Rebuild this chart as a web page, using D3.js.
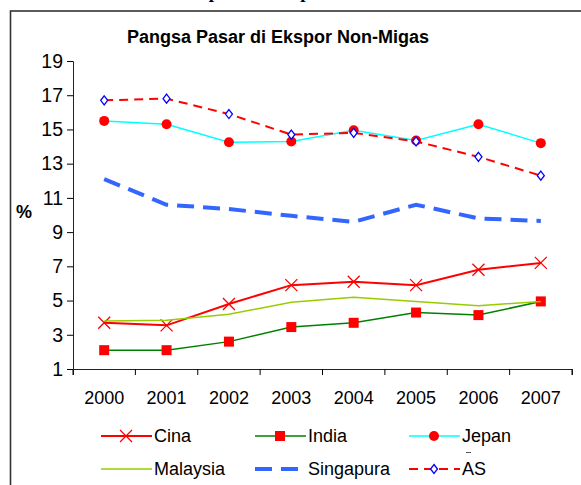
<!DOCTYPE html>
<html>
<head>
<meta charset="utf-8">
<script src="https://cdn.jsdelivr.net/npm/d3@7"></script>
<style>
  body { margin: 0; background: #fff; }
  text { font-family: Arial, "Liberation Sans", sans-serif; }
</style>
</head>
<body>
<div id="chart"></div>
<script>
// Data
var years = ["2000", "2001", "2002", "2003", "2004", "2005", "2006", "2007"];
var cina = [3.7, 3.55, 4.8, 5.9, 6.1, 5.9, 6.8, 7.2];
var india = [2.1, 2.1, 2.6, 3.45, 3.7, 4.3, 4.15, 4.95];
var jepan = [15.5, 15.3, 14.25, 14.3, 14.95, 14.35, 15.3, 14.2];
var malaysia = [3.8, 3.85, 4.2, 4.9, 5.2, 4.95, 4.7, 4.95];
var singapura = [12.1, 10.6, 10.35, 9.95, 9.6, 10.6, 9.8, 9.65];
var as = [16.7, 16.8, 15.9, 14.7, 14.8, 14.3, 13.4, 12.3];
var yTicks = [1, 3, 5, 7, 9, 11, 13, 15, 17, 19];

var svgWidth = 581;
var svgHeight = 485;

var margin = { top: 61, right: 9, bottom: 116, left: 73 };
var width = svgWidth - margin.left - margin.right;
var height = svgHeight - margin.top - margin.bottom;

var svg = d3.select("#chart")
  .append("svg")
  .attr("width", svgWidth)
  .attr("height", svgHeight);

// cut-off heading at the very top (only descenders show)
svg.append("text")
  .attr("x", 178)
  .attr("y", -2)
  .style("font-family", "'Liberation Serif', serif")
  .style("font-weight", "bold")
  .style("font-size", "19px")
  .text("Ekspor dan Impor");

// outer frame (runs off the right and bottom)
svg.append("rect")
  .attr("x", 10.5)
  .attr("y", 11)
  .attr("width", 600)
  .attr("height", 500)
  .attr("fill", "none")
  .attr("stroke", "#333")
  .attr("stroke-width", 1.6);

svg.append("text")
  .attr("x", 278)
  .attr("y", 43)
  .attr("text-anchor", "middle")
  .style("font-weight", "bold")
  .style("font-size", "18px")
  .text("Pangsa Pasar di Ekspor Non-Migas");

var chartGroup = svg.append("g")
  .attr("transform", `translate(${margin.left}, ${margin.top})`);

var xScale = d3.scaleBand()
  .domain(years)
  .range([0, width]);

var yScale = d3.scaleLinear()
  .domain([1, 19])
  .range([height, 0]);

var cx = d => xScale(d) + xScale.bandwidth() / 2;

// axes
var bottomAxis = d3.axisBottom(xScale).tickSize(6).tickSizeOuter(6).tickPadding(16);
var xAxisG = chartGroup.append("g")
  .attr("transform", `translate(0, ${height})`)
  .call(bottomAxis);
// ticks at band edges like the original
xAxisG.selectAll(".tick line").attr("x1", -xScale.bandwidth() / 2).attr("x2", -xScale.bandwidth() / 2);
xAxisG.append("line")
  .attr("x1", width).attr("x2", width)
  .attr("y1", 0).attr("y2", 6)
  .attr("stroke", "#000");
xAxisG.selectAll("text").style("font-size", "18px").style("font-family", "Arial, 'Liberation Sans', sans-serif").attr("fill", "#000");

var leftAxis = d3.axisLeft(yScale).tickValues(yTicks).tickSize(6).tickSizeOuter(6).tickPadding(4);
var yAxisG = chartGroup.append("g").call(leftAxis);
yAxisG.selectAll("text").style("font-size", "19.5px").style("font-family", "Arial, 'Liberation Sans', sans-serif").attr("fill", "#000");
yAxisG.select(".domain").attr("stroke", "#222");
xAxisG.select(".domain").attr("stroke", "#222");

chartGroup.append("text")
  .attr("x", 24 - margin.left)
  .attr("y", 218 - margin.top)
  .attr("text-anchor", "middle")
  .style("font-weight", "bold")
  .style("font-size", "18px")
  .text("%");

var series = [
  { name: "Cina", values: cina, color: "#ff0000", width: 2, dash: null, marker: "x" },
  { name: "India", values: india, color: "#008000", width: 1.5, dash: null, marker: "square" },
  { name: "Jepan", values: jepan, color: "#00ffff", width: 1.5, dash: null, marker: "circle" },
  { name: "Malaysia", values: malaysia, color: "#99cc00", width: 1.5, dash: null, marker: null },
  { name: "Singapura", values: singapura, color: "#3366ff", width: 4, dash: "17,9", marker: null },
  { name: "AS", values: as, color: "#ff0000", width: 2, dash: "9,6", marker: "diamond" }
];

var line = d3.line()
  .x((d, i) => cx(years[i]))
  .y(d => yScale(d));

function drawMarker(g, type, x, y) {
  if (type == "x") {
    g.append("path")
      .attr("d", `M${x - 6},${y - 6}L${x + 6},${y + 6}M${x - 6},${y + 6}L${x + 6},${y - 6}`)
      .attr("stroke", "#ff0000")
      .attr("stroke-width", 1.3)
      .attr("fill", "none");
  } else if (type == "square") {
    g.append("rect")
      .attr("x", x - 5).attr("y", y - 5)
      .attr("width", 10).attr("height", 10)
      .attr("fill", "#ff0000");
  } else if (type == "circle") {
    g.append("circle")
      .attr("cx", x).attr("cy", y).attr("r", 5)
      .attr("fill", "#ff0000");
  } else if (type == "diamond") {
    g.append("path")
      .attr("d", `M${x},${y - 4.5}L${x + 3.5},${y}L${x},${y + 4.5}L${x - 3.5},${y}Z`)
      .attr("fill", "#fff")
      .attr("stroke", "#0000ff")
      .attr("stroke-width", 1.3);
  }
}

series.forEach(function (s) {
  chartGroup.append("path")
    .datum(s.values)
    .attr("d", line)
    .attr("fill", "none")
    .attr("stroke", s.color)
    .attr("stroke-width", s.width)
    .attr("stroke-dasharray", s.dash);
  if (s.marker) {
    var mg = chartGroup.append("g");
    s.values.forEach(function (v, i) {
      drawMarker(mg, s.marker, cx(years[i]), yScale(v));
    });
  }
});

// Legend: 3 columns, 2 rows
var legendX = [101, 255, 409];
var legendY = [436, 469];
series.forEach(function (s, i) {
  var lx = legendX[i % 3];
  var ly = legendY[Math.floor(i / 3)];
  svg.append("line")
    .attr("x1", lx).attr("x2", lx + 51)
    .attr("y1", ly).attr("y2", ly)
    .attr("stroke", s.color)
    .attr("stroke-width", s.width)
    .attr("stroke-dasharray", s.dash);
  if (s.marker) drawMarker(svg, s.marker, lx + 25, ly);
  svg.append("text")
    .attr("x", lx + 53)
    .attr("y", ly + 6)
    .style("font-size", "18px")
    .text(s.name);
});

// small stray mark above "AS" in the original
svg.append("line")
  .attr("x1", 466).attr("x2", 471)
  .attr("y1", 452.5).attr("y2", 452.5)
  .attr("stroke", "#555")
  .attr("stroke-width", 1);
</script>
</body>
</html>
